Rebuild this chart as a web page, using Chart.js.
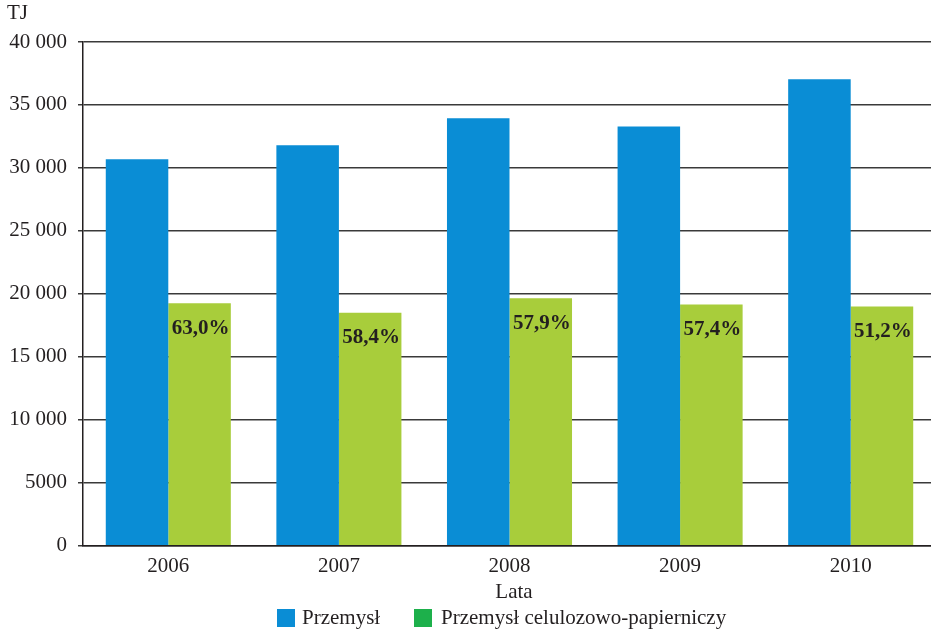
<!DOCTYPE html>
<html>
<head>
<meta charset="utf-8">
<script src="https://cdn.jsdelivr.net/npm/chart.js@4/dist/chart.umd.min.js"></script>
<style>
  html, body { margin: 0; padding: 0; background: #fff; overflow: hidden; }
  #wrap { width: 936px; height: 630px; position: relative; }
</style>
</head>
<body>
<div id="wrap"><canvas id="chart"></canvas></div>
<script>
// Zużycie energii: przemysł ogółem vs przemysł celulozowo-papierniczy (TJ)
const years = ['2006', '2007', '2008', '2009', '2010'];
const przemysl = [30700, 31800, 33950, 33300, 37050];
const celulozowo = [19250, 18500, 19650, 19150, 19000];
const udzial = ['63,0%', '58,4%', '57,9%', '57,4%', '51,2%'];
const yTickLabels = ['0', '5000', '10 000', '15 000', '20 000', '25 000', '30 000', '35 000', '40 000'];
const seriesNames = ['Przemysł', 'Przemysł celulozowo-papierniczy'];

const SERIF = '"Liberation Serif", "Times New Roman", serif';
const TEXT = '#231f20';
const BAR_BLUE = '#0A8DD5';
const BAR_GREEN = '#A8CD3B';
const LEGEND_COLORS = ['#0A8DD5', '#1DB04B'];

// Jednostka, tytuł osi X, legenda oraz udziały procentowe w zielonych słupkach
const annotations = {
  id: 'annotations',
  afterDraw(chart) {
    const ctx = chart.ctx;
    ctx.save();
    ctx.fillStyle = TEXT;
    ctx.font = '21px ' + SERIF;
    ctx.textBaseline = 'middle';
    ctx.textAlign = 'left';
    ctx.fillText('TJ', 7, 13);

    // tytuł osi X
    ctx.textAlign = 'center';
    ctx.fillText('Lata', 514, 592);

    // legenda
    ctx.textAlign = 'left';
    const items = [{ box: 277, text: 302 }, { box: 414, text: 441 }];
    items.forEach((it, i) => {
      ctx.fillStyle = LEGEND_COLORS[i];
      ctx.fillRect(it.box, 609, 18, 18);
      ctx.fillStyle = TEXT;
      ctx.fillText(seriesNames[i], it.text, 618);
    });

    // udziały procentowe
    const meta = chart.getDatasetMeta(1);
    ctx.font = 'bold 21px ' + SERIF;
    ctx.textAlign = 'center';
    meta.data.forEach((bar, i) => {
      ctx.fillText(udzial[i], bar.x + 1, bar.y + 25);
    });
    ctx.restore();
  }
};

new Chart(document.getElementById('chart'), {
  type: 'bar',
  data: {
    labels: years,
    datasets: [
      { label: seriesNames[0], data: przemysl, backgroundColor: BAR_BLUE },
      { label: seriesNames[1], data: celulozowo, backgroundColor: BAR_GREEN }
    ]
  },
  options: {
    responsive: true,
    maintainAspectRatio: false,
    animation: false,
    devicePixelRatio: 1,
    layout: { padding: { top: 42, right: 0, left: 0, bottom: 43 } },
    datasets: {
      bar: { barPercentage: 1.0, categoryPercentage: 0.733, borderWidth: 0 }
    },
    scales: {
      x: {
        grid: { display: false, drawTicks: false },
        border: { display: true, color: TEXT, width: 1.5 },
        ticks: { color: TEXT, font: { family: SERIF, size: 21 }, padding: 8 }
      },
      y: {
        min: 0,
        max: 40000,
        ticks: {
          stepSize: 5000,
          color: TEXT,
          font: { family: SERIF, size: 21 },
          padding: 11,
          callback: (v, i) => yTickLabels[i]
        },
        grid: { color: '#3a3a3a', lineWidth: 1.5, tickLength: 5, drawTicks: true },
        border: { display: true, color: TEXT, width: 1.5 },
        afterFit(scale) { scale.width = 83; }
      }
    },
    plugins: {
      legend: { display: false },
      tooltip: { enabled: false }
    }
  },
  plugins: [annotations]
});
</script>
</body>
</html>
